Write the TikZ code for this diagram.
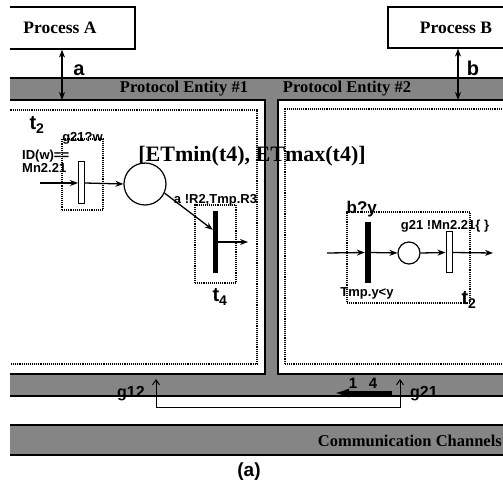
\documentclass[tikz,border=0pt]{standalone}
\usepackage{fontspec}
\setmainfont{Liberation Serif}
\setsansfont{Liberation Sans}
\usetikzlibrary{arrows.meta, positioning, calc}

\begin{document}
\begin{tikzpicture}[x=1pt, y=-1pt,
        proc/.style={rectangle, draw, line width=1.2pt, inner sep=0pt},
        ptxt/.style={inner sep=0pt, font=\fontsize{17.5}{17.5}\selectfont\bfseries},
        banda/.style={rectangle, fill=black!48, inner sep=0pt, outer sep=0pt},
        ent/.style={rectangle, draw, fill=white, line width=1.2pt, inner sep=0pt, outer sep=0pt},
        caja/.style={rectangle, draw, densely dotted, line width=1.1pt, inner sep=0pt},
        trans/.style={rectangle, draw, fill=white, line width=1pt, inner sep=0pt, minimum width=6pt},
        transn/.style={rectangle, fill=black, inner sep=0pt, minimum width=6pt},
        lugar/.style={circle, draw, line width=1.2pt, inner sep=0pt},
        etq/.style={inner sep=0pt, font=\sffamily\bfseries\fontsize{13}{13}\selectfont},
        etqg/.style={inner sep=0pt, font=\sffamily\bfseries\fontsize{20}{20}\selectfont},
        tband/.style={inner sep=0pt, font=\fontsize{16.5}{16.5}\selectfont\bfseries},
        flecha/.style={-{Stealth[length=8pt,width=6pt]}, line width=1.3pt},
        dflecha/.style={{Stealth[length=8pt,width=6pt]}-{Stealth[length=8pt,width=6pt]}, line width=1.3pt},
        lazo/.style={{Straight Barb[length=5pt,width=7pt]}-{Straight Barb[length=5pt,width=7pt]}, line width=1pt},
        gruesa/.style={-{Latex[length=16pt,width=9pt]}, line width=3.5pt}]

        \useasboundingbox (0,0) rectangle (503,494);
        \clip (10,0) rectangle (503,494);

        % Bandas grises
        \node[banda, minimum width=520pt, minimum height=22pt] (pe) at (255,89) {};
        \node[banda, minimum width=13pt, minimum height=274pt] (div) at (271.5,237) {};
        \node[banda, minimum width=520pt, minimum height=22pt] (cc) at (255,385) {};
        \node[banda, draw, line width=1.2pt, minimum width=520pt, minimum height=30pt] (com) at (255,440) {};
        \draw[line width=1.2pt] (pe.north west) -- (pe.north east);
        \draw[line width=1.2pt] (cc.south west) -- (cc.south east);

        % Entidades de protocolo
        \node[ent, minimum width=275pt, minimum height=274pt] (ent1) at (127.5,237) {};
        \node[ent, minimum width=242pt, minimum height=274pt] (ent2) at (399,237) {};
        \node[caja, minimum width=267pt, minimum height=254pt] (marco1) at (123.5,237) {};
        \node[caja, minimum width=235pt, minimum height=255pt] (marco2) at (402.5,236.5) {};

        \node[tband] at (184,89) {Protocol Entity \#1};
        \node[tband] at (347,89) {Protocol Entity \#2};
        \node[tband, anchor=east] at (502,441) {Communication Channels};

        % Procesos
        \node[proc, minimum width=146pt, minimum height=42pt] (procA) at (62,28) {};
        \node[proc, minimum width=140pt, minimum height=41pt] (procB) at (458,27.5) {};
        \node[ptxt] at (60,28) {Process A};
        \node[ptxt] at (456,28) {Process B};
        \draw[dflecha] (procA.south) -- (procA.south |- pe.south);
        \draw[dflecha] (procB.south) -- (procB.south |- pe.south);
        \node[etqg] at (79,70) {a};
        \node[etqg] at (473,68) {b};

        % Red de la entidad 1
        \node[etqg] at (37,125) {t\textsubscript{2}};
        \node[caja, minimum width=41pt, minimum height=71pt] (caja1) at (82.5,174.5) {};
        \node[trans, minimum height=42pt] (bar1) at (81.5,183) {};
        \node[etq] at (caja1.north) {g21?w};
        \node[etq, anchor=west, align=left] at (22,161) {ID(w)==\\Mn2.21};
        \coordinate (in1) at (40,183);
        \node[lugar, minimum size=42pt] (p1) at (145,184) {};
        \draw[flecha] (in1) -- (bar1.west);
        \draw[flecha] (bar1.east) -- (p1.west);

        \node[inner sep=0pt, font=\fontsize{22}{22}\selectfont\bfseries] (intv) at (252,156) {[ETmin(t4), ETmax(t4)]};

        \node[caja, minimum width=41pt, minimum height=78pt] (caja4) at (215.5,244) {};
        \node[transn, minimum width=5pt, minimum height=62pt] (bar4) at (215.5,242) {};
        \node[etq] at ([yshift=4pt]caja4.north) {a !R2,Tmp.R3};
        \coordinate (out4) at (248,242);
        \draw[flecha] (p1.-25) -- ([yshift=-19pt]bar4.north west);
        \draw[flecha] (bar4.east) -- (out4);
        \node[etqg] at (220,297) {t\textsubscript{4}};

        % Red de la entidad 2
        \node[caja, minimum width=123pt, minimum height=91pt] (caja2) at (408.5,257.5) {};
        \node[transn, minimum height=61pt] (bar5) at (368,252.5) {};
        \node[lugar, minimum size=22pt] (p2) at (409,253) {};
        \node[trans, minimum height=41pt] (bar6) at (449,252.5) {};
        \coordinate (in2) at (327,253);
        \coordinate (out6) at (493,253);
        \draw[flecha] (in2) -- (bar5.west);
        \draw[flecha] (bar5.east) -- (p2.west);
        \draw[flecha] (p2.east) -- (bar6.west);
        \draw[flecha] (bar6.east) -- (out6);
        \node[etq, anchor=west, font=\sffamily\bfseries\fontsize{17}{17}\selectfont] at ([yshift=2pt]caja2.north west) {b?y};
        \node[etq] at (445,226) {g21 !Mn2.21\{ \}};
        \node[etq] at (367,293) {Tmp.y<y};
        \node[etqg] at (469,300) {t\textsubscript{2}};

        % Canales
        \coordinate (c12) at (156,379);
        \coordinate (c21) at (400,379);
        \draw[lazo] (c12) -- ++(0,28) -| (c21);
        \coordinate (f1) at (392,393);
        \coordinate (f2) at (333,393);
        \draw[gruesa] (f1) -- (f2);
        \node[etq, font=\sffamily\bfseries\fontsize{15}{15}\selectfont] at (353,383) {1};
        \node[etq, font=\sffamily\bfseries\fontsize{15}{15}\selectfont] at (373,383) {4};
        \node[etq, font=\sffamily\bfseries\fontsize{16}{16}\selectfont] at (131,394) {g12};
        \node[etq, font=\sffamily\bfseries\fontsize{16}{16}\selectfont] at (424,394) {g21};

        \node[inner sep=0pt, font=\sffamily\bfseries\fontsize{19}{19}\selectfont] (cap) at (249,472) {(a)};
    \end{tikzpicture}
\end{document}
